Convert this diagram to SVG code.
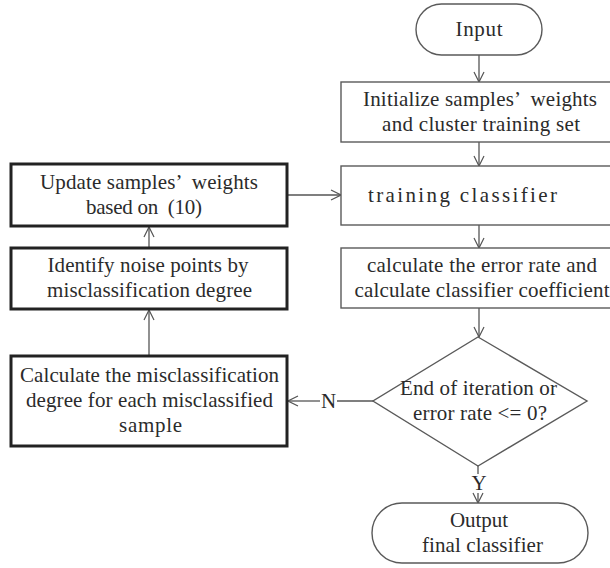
<svg xmlns="http://www.w3.org/2000/svg" width="610" height="568" viewBox="0 0 610 568">
  <style>
    .t { font-family: "Liberation Serif", "Times New Roman", serif; font-size: 21px; fill: #2b2b2b; text-anchor: middle; }
    .box { fill: #ffffff; stroke: #5a5a5a; stroke-width: 1.4; }
    .bold { fill: #ffffff; stroke: #222222; stroke-width: 3; }
    .edge { fill: none; stroke: #555555; stroke-width: 1.3; }
  </style>
  <defs>
    <marker id="arrow" viewBox="0 0 12 12" refX="11" refY="6" markerWidth="12" markerHeight="12" markerUnits="userSpaceOnUse" orient="auto">
      <path d="M1,1 L11,6 L1,11" fill="none" stroke="#555555" stroke-width="1.2"/>
    </marker>
  </defs>
  <rect width="610" height="568" fill="#ffffff"/>

  <!-- connectors -->
  <g id="connectors">
    <line class="edge" x1="479" y1="55" x2="479" y2="82" marker-end="url(#arrow)"/>
    <line class="edge" x1="479" y1="142" x2="479" y2="166" marker-end="url(#arrow)"/>
    <line class="edge" x1="479" y1="225" x2="479" y2="248" marker-end="url(#arrow)"/>
    <line class="edge" x1="479" y1="308" x2="479" y2="337" marker-end="url(#arrow)"/>
    <line class="edge" x1="478" y1="466" x2="478" y2="474"/>
    <line class="edge" x1="478" y1="493" x2="478" y2="503" marker-end="url(#arrow)"/>
    <text class="t" x="479" y="490">Y</text>
    <line class="edge" x1="373" y1="401" x2="337" y2="401"/>
    <line class="edge" x1="320" y1="401" x2="288" y2="401" marker-end="url(#arrow)"/>
    <text class="t" x="328.5" y="408">N</text>
    <line class="edge" x1="149" y1="356" x2="149" y2="310" marker-end="url(#arrow)"/>
    <line class="edge" x1="149" y1="248" x2="149" y2="227" marker-end="url(#arrow)"/>
    <line class="edge" x1="288" y1="195" x2="341" y2="195" marker-end="url(#arrow)"/>
  </g>

  <g id="input">
    <rect class="box" x="416" y="4" width="126" height="51" rx="25.5"/>
    <text class="t" x="479" y="36" textLength="47">Input</text>
  </g>

  <g id="init">
    <rect class="box" x="341" y="82" width="278" height="60"/>
    <text class="t" x="480" y="106" textLength="234" xml:space="preserve">Initialize samples’  weights</text>
    <text class="t" x="481" y="131" textLength="198">and cluster training set</text>
  </g>

  <g id="train">
    <rect class="box" x="341" y="166" width="278" height="59"/>
    <text class="t" x="462.5" y="202" textLength="189">training classifier</text>
  </g>

  <g id="error">
    <rect class="box" x="341" y="248" width="278" height="60"/>
    <text class="t" x="482" y="272" textLength="230">calculate the error rate and</text>
    <text class="t" x="482" y="297" textLength="255">calculate classifier coefficient</text>
  </g>

  <g id="decision">
    <polygon class="box" points="478,337 587,401 478,466 373,401"/>
    <text class="t" x="478.5" y="395" textLength="157">End of iteration or</text>
    <text class="t" x="480" y="420" textLength="134">error rate &lt;= 0?</text>
  </g>

  <g id="output">
    <rect class="box" x="372" y="503" width="216" height="60" rx="30"/>
    <text class="t" x="479" y="527" textLength="58">Output</text>
    <text class="t" x="482.5" y="552" textLength="121">final classifier</text>
  </g>

  <g id="update">
    <rect class="bold" x="11" y="164" width="276" height="62"/>
    <text class="t" x="149" y="189" textLength="218" xml:space="preserve">Update samples’  weights</text>
    <text class="t" x="144" y="214" textLength="116" xml:space="preserve">based on  (10)</text>
  </g>

  <g id="identify">
    <rect class="bold" x="11" y="248" width="276" height="61"/>
    <text class="t" x="148" y="272" textLength="201">Identify noise points by</text>
    <text class="t" x="149.5" y="297" textLength="205">misclassification degree</text>
  </g>

  <g id="degree">
    <rect class="bold" x="11" y="356" width="276" height="90"/>
    <text class="t" x="149.5" y="382" textLength="259">Calculate the misclassification</text>
    <text class="t" x="149.5" y="407" textLength="247">degree for each misclassified</text>
    <text class="t" x="150.5" y="432" textLength="63">sample</text>
  </g>
</svg>
